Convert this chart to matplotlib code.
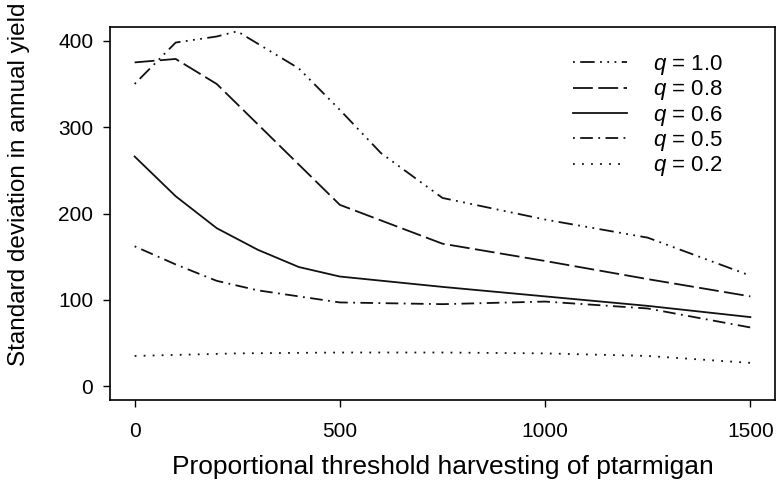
import matplotlib
matplotlib.use("Agg")
import matplotlib.pyplot as plt

# threshold values (x) and SD in annual yield for each q
x_q10 = [0, 100, 200, 250, 400, 500, 600, 750, 1000, 1250, 1500]
y_q10 = [350, 398, 405, 411, 368, 320, 270, 218, 193, 172, 128]

x_q08 = [0, 100, 200, 500, 750, 1000, 1250, 1500]
y_q08 = [375, 379, 350, 210, 165, 145, 124, 104]

x_q06 = [0, 100, 200, 300, 400, 500, 750, 1000, 1250, 1500]
y_q06 = [266, 220, 183, 158, 138, 127, 115, 104, 93, 80]

x_q05 = [0, 100, 200, 300, 400, 500, 750, 1000, 1250, 1500]
y_q05 = [162, 141, 122, 111, 104, 97, 95, 98, 90, 68]

x_q02 = [0, 250, 500, 750, 1000, 1250, 1500]
y_q02 = [35, 38, 39, 39, 38, 35, 27]

labels = ["1.0", "0.8", "0.6", "0.5", "0.2"]
xticks = [0, 500, 1000, 1500]
yticks = [0, 100, 200, 300, 400]

plt.rcParams["font.family"] = ["Liberation Sans", "DejaVu Sans"]
plt.rcParams["mathtext.fontset"] = "custom"
plt.rcParams["mathtext.it"] = "Liberation Sans:italic"
plt.rcParams["mathtext.rm"] = "Liberation Sans"

fig = plt.figure(figsize=(7.79, 4.82), dpi=100)
ax = fig.add_axes([110 / 779, 1 - 400 / 482, 665 / 779, 373 / 482])

col = "#111111"
lw = 1.3
series = [
    (x_q10, y_q10, (0, (1, 3, 8, 3, 1, 3, 1, 3))),
    (x_q08, y_q08, (0, (11, 3))),
    (x_q06, y_q06, "-"),
    (x_q05, y_q05, (0, (1, 3, 7, 3))),
    (x_q02, y_q02, (0, (1, 4))),
]
for (xs, ys, ls), lab in zip(series, labels):
    ax.plot(xs, ys, color=col, lw=lw, linestyle=ls, label=f"$q$ = {lab}")

ax.set_xlim(-60, 1560)
ax.set_ylim(-16, 416)
ax.set_xticks(xticks)
ax.set_yticks(yticks)
ax.tick_params(direction="out", length=5, width=1, labelsize=15, colors="black")
ax.tick_params(axis="x", pad=11)
ax.tick_params(axis="y", pad=7)
for s in ax.spines.values():
    s.set_linewidth(1.2)

ax.set_xlabel("Proportional threshold harvesting of ptarmigan", fontsize=19)
ax.xaxis.set_label_coords(0.5, -0.148)
ax.set_ylabel("Standard deviation in annual yield", fontsize=17.5)
ax.yaxis.set_label_coords(-0.12, 0.578)

ax.legend(loc="upper left", bbox_to_anchor=(573 / 779, 1 - 53 / 482),
          bbox_transform=fig.transFigure, frameon=False, fontsize=16,
          handlelength=2.45, handletextpad=1.15, labelspacing=0.06,
          borderpad=0, borderaxespad=0)

fig.savefig("out.png", dpi=100)
